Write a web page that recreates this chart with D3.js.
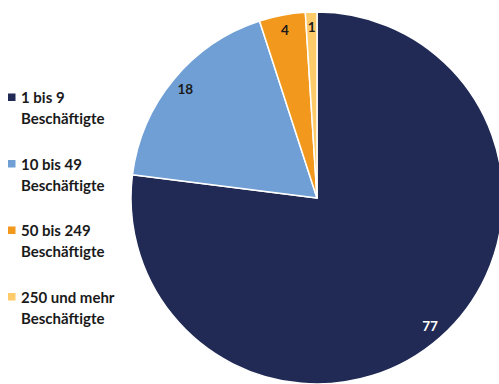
<!DOCTYPE html>
<html>
<head>
<meta charset="utf-8">
<script src="https://cdn.jsdelivr.net/npm/d3@7"></script>
<style>
  html, body { margin: 0; padding: 0; background: #fff; }
  svg { display: block; }
  text { font-family: Lato, "Open Sans", sans-serif; font-weight: 700; }
</style>
</head>
<body>
<svg id="chart" width="499" height="384"></svg>
<script>
// Share of companies by size class (percent)
const categories = ["1 bis 9", "10 bis 49", "50 bis 249", "250 und mehr"];
const categorySuffix = ["Beschäftigte", "Beschäftigte", "Beschäftigte", "Beschäftigte"];
const values = [77, 18, 4, 1];
const colors = ["#202A54", "#6F9FD5", "#F2981C", "#FDCB6A"];
const labelColors = ["#ffffff", "#1a1a1a", "#1a1a1a", "#1a1a1a"];

const svg = d3.select("#chart");
const cx = 317, cy = 198, R = 186;

const data = categories.map((c, i) => ({ cat: c, suffix: categorySuffix[i], value: values[i], i }));

const pie = d3.pie().value(d => d.value).sort(null);
const arc = d3.arc().innerRadius(0).outerRadius(R);
const labelArc = d3.arc().innerRadius(171).outerRadius(171);

const g = svg.append("g").attr("transform", `translate(${cx},${cy})`);
const arcs = pie(data);

g.selectAll("path")
  .data(arcs)
  .join("path")
  .attr("d", arc)
  .attr("fill", d => colors[d.data.i])
  .attr("stroke", "#fff")
  .attr("stroke-width", 1.5)
  .attr("stroke-linejoin", "round");

g.selectAll("text.val")
  .data(arcs)
  .join("text")
  .attr("class", "val")
  .attr("transform", d => `translate(${labelArc.centroid(d)})`)
  .attr("text-anchor", "middle")
  .attr("dominant-baseline", "central")
  .attr("font-size", 13.5)
  .attr("font-weight", 900)
  .attr("fill", d => labelColors[d.data.i])
  .text(d => d.data.value);

// Legend
const legend = svg.append("g").attr("transform", "translate(8,97)");
const item = legend.selectAll("g")
  .data(data)
  .join("g")
  .attr("transform", (d, i) => `translate(0,${i * 66.5})`);

item.append("rect")
  .attr("x", 0).attr("y", -3.5)
  .attr("width", 7.5).attr("height", 7.5)
  .attr("fill", d => colors[d.i]);

item.append("text")
  .attr("x", 13).attr("y", 0)
  .attr("dominant-baseline", "central")
  .attr("font-size", 15)
  .attr("fill", "#1a1a1a")
  .text(d => d.cat);

item.append("text")
  .attr("x", 13).attr("y", 21)
  .attr("dominant-baseline", "central")
  .attr("font-size", 15)
  .attr("fill", "#1a1a1a")
  .text(d => d.suffix);
</script>
</body>
</html>
